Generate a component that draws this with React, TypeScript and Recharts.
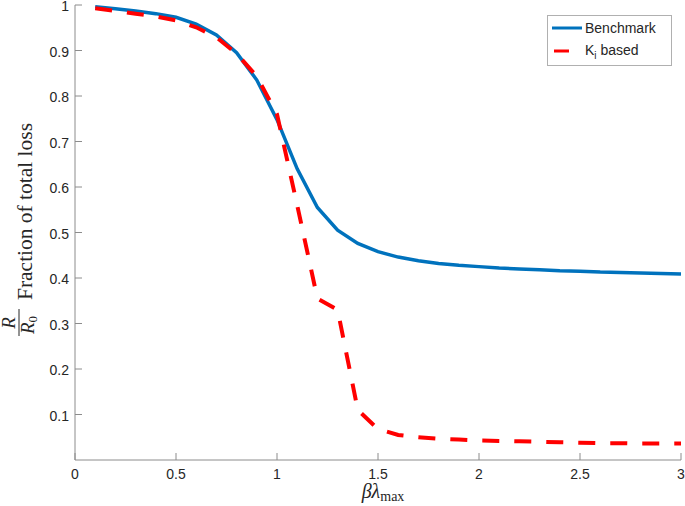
import React from "react";
import { LineChart, Line, XAxis, YAxis } from "recharts";

const xs = [0.1, 0.2, 0.3, 0.4, 0.5, 0.6, 0.7, 0.8, 0.9, 1.0, 1.1, 1.2, 1.3, 1.4, 1.5, 1.6, 1.7, 1.8, 1.9, 2.0, 2.1, 2.2, 2.3, 2.4, 2.5, 2.6, 2.7, 2.8, 2.9, 3.0];
const benchmark = [0.996, 0.992, 0.987, 0.981, 0.973, 0.958, 0.934, 0.895, 0.835, 0.748, 0.64, 0.555, 0.505, 0.476, 0.458, 0.446, 0.438, 0.432, 0.428, 0.425, 0.422, 0.42, 0.418, 0.416, 0.415, 0.413, 0.412, 0.411, 0.41, 0.409];
const kiBased = [0.993, 0.987, 0.981, 0.975, 0.966, 0.951, 0.929, 0.893, 0.843, 0.76, 0.56, 0.355, 0.33, 0.11, 0.068, 0.055, 0.05, 0.047, 0.045, 0.043, 0.042, 0.041, 0.04, 0.039, 0.038, 0.037, 0.037, 0.036, 0.036, 0.036];
const xTicks = [0, 0.5, 1, 1.5, 2, 2.5, 3];
const yTicks = [0.1, 0.2, 0.3, 0.4, 0.5, 0.6, 0.7, 0.8, 0.9, 1];
const seriesNames = ["Benchmark", "based"];

const data = xs.map((x, i) => ({ x, benchmark: benchmark[i], ki: kiBased[i] }));

const AXIS = "#8c8c8c";
const TXT = "#262626";
const SANS = "'Liberation Sans', Arial, Helvetica, sans-serif";
const SERIF = "'Liberation Serif', 'Times New Roman', serif";
const TL = 7;

const BottomTick = (p: any) => (
  <g>
    <line x1={p.x} x2={p.x} y1={p.y} y2={p.y - TL} stroke={AXIS} />
    <text x={p.x} y={p.y + 19} textAnchor="middle" fontFamily={SANS} fontSize={14} fill={TXT}>
      {p.payload.value}
    </text>
  </g>
);
const TopTick = (p: any) => (
  <line x1={p.x} x2={p.x} y1={p.y} y2={p.y + TL} stroke={AXIS} />
);
const LeftTick = (p: any) => (
  <g>
    <line x1={p.x} x2={p.x + TL} y1={p.y} y2={p.y} stroke={AXIS} />
    <text x={p.x - 6} y={p.y + 6} textAnchor="end" fontFamily={SANS} fontSize={14} fill={TXT}>
      {p.payload.value}
    </text>
  </g>
);
const RightTick = (p: any) => (
  <line x1={p.x} x2={p.x - TL} y1={p.y} y2={p.y} stroke={AXIS} />
);

const XLabel = () => (
  <text x={383} y={498} textAnchor="middle" fontFamily={SERIF} fontSize={20} fill={TXT}>
    <tspan fontStyle="italic">βλ</tspan>
    <tspan fontSize={14} dy={3}>max</tspan>
  </text>
);

const YLabel = () => (
  <g transform="translate(1,232) rotate(-90)" fontFamily={SERIF} fill={TXT}>
    <text x={-91} y={14} textAnchor="middle" fontSize={19} fontStyle="italic">R</text>
    <line x1={-104} x2={-77} y1={18} y2={18} stroke={TXT} strokeWidth={1} />
    <text x={-93} y={33} textAnchor="middle" fontSize={19}>
      <tspan fontStyle="italic">R</tspan>
      <tspan fontSize={13} dy={3}>0</tspan>
    </text>
    <text x={-68} y={31} textAnchor="start" fontSize={20} textLength={177} lengthAdjust="spacingAndGlyphs">
      Fraction of total loss
    </text>
  </g>
);

const LegendBox = () => (
  <div
    style={{
      position: "absolute",
      left: 547,
      top: 15,
      border: "1px solid #b0b0b0",
      background: "#fff",
      width: 125,
      height: 51,
      boxSizing: "border-box",
      fontFamily: SANS,
      fontSize: 14,
      color: TXT,
    }}
  >
    <svg width={40} height={50} style={{ position: "absolute", left: 0, top: 0 }}>
      <line x1={4} x2={34} y1={12} y2={12} stroke="#0072BD" strokeWidth={3} />
      <line x1={6} x2={21} y1={35} y2={35} stroke="#FF0000" strokeWidth={3} />
    </svg>
    <div style={{ position: "absolute", left: 37, top: 3, lineHeight: "18px" }}>{seriesNames[0]}</div>
    <div style={{ position: "absolute", left: 37, top: 25, lineHeight: "18px" }}>
      K<sub style={{ fontSize: 10, verticalAlign: "-4px", lineHeight: 0 }}>i</sub> {seriesNames[1]}
    </div>
  </div>
);

export default function App() {
  return (
    <div style={{ position: "fixed", left: 0, top: 0, width: 685, height: 506, background: "#fff" }}>
      <LineChart width={685} height={506} data={data} margin={{ top: 5, right: 4, left: 0, bottom: 0 }}>
        <XAxis
          dataKey="x"
          type="number"
          domain={[0, 3]}
          ticks={xTicks}
          height={46}
          stroke={AXIS}
          tickLine={false}
          tickSize={0}
          tickMargin={0}
          tick={BottomTick}
          interval={0}
          label={{ content: XLabel }}
        />
        <XAxis
          xAxisId="top"
          orientation="top"
          dataKey="x"
          type="number"
          domain={[0, 3]}
          ticks={xTicks}
          height={0}
          stroke={AXIS}
          tickLine={false}
          tickSize={0}
          tickMargin={0}
          tick={TopTick}
          interval={0}
        />
        <YAxis
          type="number"
          domain={[0, 1]}
          ticks={yTicks}
          width={75}
          stroke={AXIS}
          tickLine={false}
          tickSize={0}
          tickMargin={0}
          tick={LeftTick}
          interval={0}
          label={{ content: YLabel }}
        />
        <YAxis
          yAxisId="right"
          orientation="right"
          type="number"
          domain={[0, 1]}
          ticks={yTicks}
          width={0}
          stroke={AXIS}
          tickLine={false}
          tickSize={0}
          tickMargin={0}
          tick={RightTick}
          interval={0}
        />
        <Line
          type="linear"
          dataKey="benchmark"
          name={seriesNames[0]}
          stroke="#0072BD"
          strokeWidth={3.5}
          dot={false}
          isAnimationActive={false}
        />
        <Line
          type="linear"
          dataKey="ki"
          name={seriesNames[1]}
          stroke="#FF0000"
          strokeWidth={4}
          strokeDasharray="17 15"
          dot={false}
          isAnimationActive={false}
        />
      </LineChart>
      <LegendBox />
    </div>
  );
}
